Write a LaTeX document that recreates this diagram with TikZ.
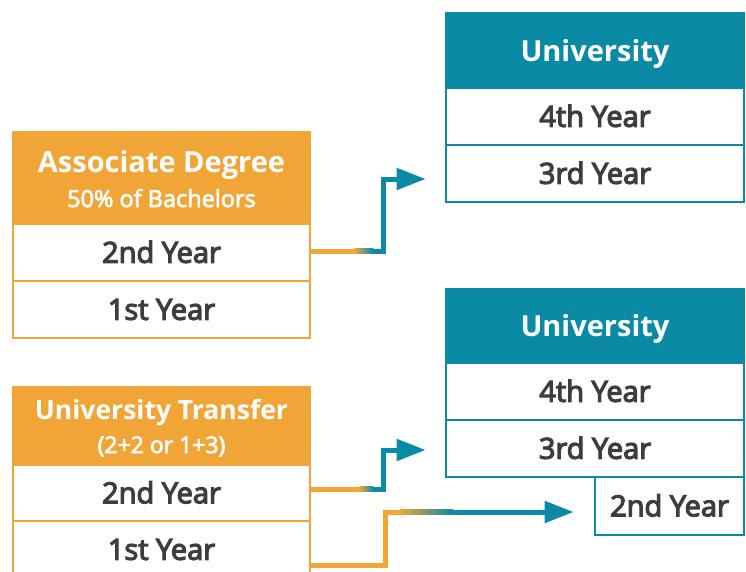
\documentclass[tikz,border=0pt]{standalone}
\usepackage{fontspec}
\setmainfont{Open Sans}
\newfontfamily\rowfont[FakeBold=4]{Open Sans}
\newfontfamily\subfont[FakeBold=3]{Open Sans}
\usetikzlibrary{arrows.meta,calc}
\definecolor{org}{HTML}{F2A537}
\definecolor{tl}{HTML}{0A8AA5}
\definecolor{txt}{HTML}{3D3D3D}
\begin{document}
\begin{tikzpicture}[x=1pt,y=-1pt,
  cell/.style={draw, line width=2.6pt, inner sep=0pt, align=center},
  ocell/.style={cell, draw=org, fill=white, minimum width=297pt, minimum height=57pt,
    text=txt, font=\rowfont\fontsize{29}{31}\selectfont, text height=20.5pt, text depth=0pt},
  ohead/.style={cell, draw=org, fill=org, minimum width=297pt},
  tcell/.style={cell, draw=tl, fill=white, minimum width=298pt, minimum height=57pt,
    text=txt, font=\rowfont\fontsize{29}{31}\selectfont, text height=20.5pt, text depth=0pt},
  thead/.style={cell, draw=tl, fill=tl, minimum width=298pt, text=white,
    font=\bfseries\fontsize{29}{32}\selectfont, text height=21pt, text depth=0pt},
  htext/.style={anchor=base, text=white, inner sep=0pt},
  oline/.style={draw=org, line width=5pt, line join=miter},
  tline/.style={draw=tl, line width=5pt, line join=miter, -{Triangle[length=29pt,width=21pt]}},
  fadeseg/.style={left color=org, right color=tl}
]
\clip (0,0) rectangle (746,571);
% Associate Degree
\node[ohead, minimum height=92pt] (a0) at (161.5,178) {};
\node[htext, font=\bfseries\fontsize{29}{32}\selectfont] (a0t) at (161.5,172) {Associate Degree};
\node[htext, font=\subfont\fontsize{23.5}{26}\selectfont] (a0s) at (161.5,207) {50\% of Bachelors};
\node[ocell] (a2) at (161.5,252.5) {2nd Year};
\node[ocell] (a1) at (161.5,309.5) {1st Year};
% University top
\node[thead, minimum height=75pt] (u0) at (595,50.5) {University};
\node[tcell] (u4) at (595,116.5) {4th Year};
\node[tcell] (u3) at (595,173.5) {3rd Year};
% University Transfer
\node[ohead, minimum height=78pt] (t0) at (161.5,426) {};
\node[htext, font=\bfseries\fontsize{26.5}{30}\selectfont] (t0t) at (161.5,419) {University Transfer};
\node[htext, font=\subfont\fontsize{23}{26}\selectfont] (t0s) at (161.5,453) {(2+2 or 1+3)};
\node[ocell, minimum height=56pt] (t2) at (161.5,493) {2nd Year};
\node[ocell] (t1) at (161.5,549.5) {1st Year};
% University bottom
\node[thead, minimum height=74pt] (v0) at (595,326) {University};
\node[tcell] (v4) at (595,391.5) {4th Year};
\node[tcell] (v3) at (595,448.5) {3rd Year};
\node[tcell, minimum width=149pt, minimum height=58pt] (v2) at (669.5,506) {2nd Year};
% connector 1
\coordinate (c1a) at ($(a2.east)+(0,-1.5)$);
\coordinate (c1b) at ($(c1a)+(43,0)$);
\coordinate (c1c) at ($(c1b)+(19,0)$);
\coordinate (e1) at ($(u3.west)+(-19,5.5)$);
\path[oline] (c1a) -- (c1b);
\shade[fadeseg] ($(c1b)+(0,-2.5)$) rectangle ($(c1c)+(0,2.5)$);
\path[tline] (c1c) -| ($(e1)+(-42,0)$) -- (e1);
% connector 2
\coordinate (c2a) at ($(t2.east)+(0,-4)$);
\coordinate (c2b) at ($(c2a)+(48,0)$);
\coordinate (c2c) at ($(c2b)+(14,0)$);
\coordinate (e2) at ($(v3.west)+(-19,1.5)$);
\path[oline] (c2a) -- (c2b);
\shade[fadeseg] ($(c2b)+(0,-2.5)$) rectangle ($(c2c)+(0,2.5)$);
\path[tline] (c2c) -| ($(e2)+(-42,0)$) -- (e2);
% connector 3
\coordinate (c3a) at ($(t1.east)+(0,15.5)$);
\coordinate (e3) at ($(v2.west)+(-20,6)$);
\coordinate (c3b) at (400,512);
\coordinate (c3c) at (453,512);
\path[oline] (c3a) -| ($(c3b)+(-15,0)$) -- (c3b);
\shade[fadeseg] ($(c3b)+(0,-2.5)$) rectangle ($(c3c)+(0,2.5)$);
\path[tline] (c3c) -- (e3);
\end{tikzpicture}
\end{document}
